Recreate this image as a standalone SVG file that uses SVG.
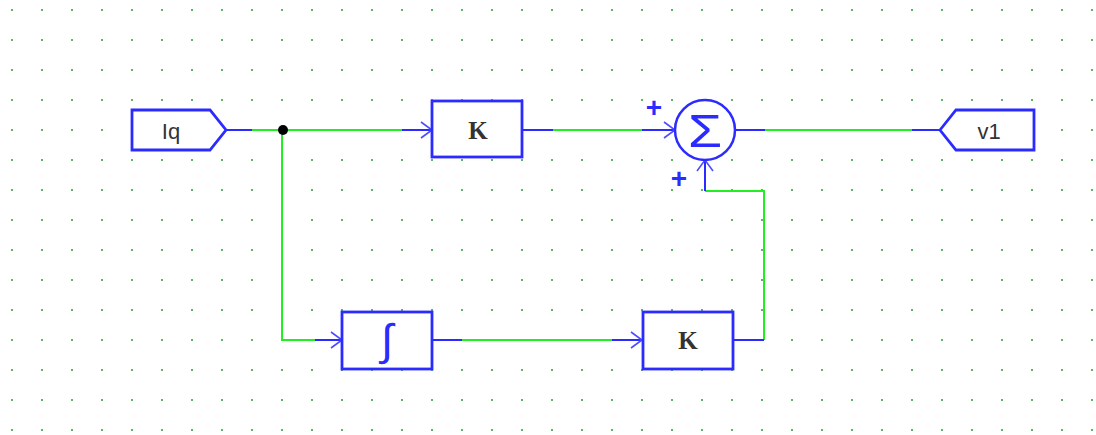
<svg xmlns="http://www.w3.org/2000/svg" width="1096" height="435" viewBox="0 0 1096 435">
<defs>
<pattern id="grid" x="0" y="0" width="30" height="30" patternUnits="userSpaceOnUse" patternTransform="translate(12 10)">
<rect x="-1" y="-1" width="2" height="2" fill="#5cb85c"/>
<rect x="29" y="-1" width="2" height="2" fill="#5cb85c"/>
<rect x="-1" y="29" width="2" height="2" fill="#5cb85c"/>
<rect x="29" y="29" width="2" height="2" fill="#5cb85c"/>
</pattern>
<marker id="arr" markerWidth="14" markerHeight="18" refX="12" refY="9" orient="auto" markerUnits="userSpaceOnUse">
<path d="M1,1 L12,9 L1,17" fill="none" stroke="#4d4dff" stroke-width="1.6"/>
</marker>
<style>
.blk{fill:#fff;stroke:#2b2bff;stroke-width:2.8}
.stub{fill:none;stroke:#2b2bff;stroke-width:2}
.wire{fill:none;stroke:#22ee22;stroke-width:2}
.lbl{font-family:"Liberation Sans",Arial,sans-serif;font-size:22px;fill:#333;text-anchor:middle;dominant-baseline:central}
.k{font-family:"Liberation Serif","Times New Roman",serif;font-size:25px;font-weight:bold;fill:#333;text-anchor:middle;dominant-baseline:central}
.sym{font-family:"Liberation Sans",sans-serif;fill:#2b2bff;text-anchor:middle;dominant-baseline:central}
.plus{font-family:"Liberation Sans",Arial,sans-serif;font-size:28px;font-weight:bold;fill:#2b2bff;text-anchor:middle;dominant-baseline:central}
</style>
</defs>
<rect width="1096" height="435" fill="#fff"/>
<rect width="1096" height="435" fill="url(#grid)"/>

<g id="connectors">
<path class="wire" d="M252,130 H402"/>
<path class="wire" d="M282,130 V340 H315"/>
<path class="wire" d="M553,130 H642"/>
<path class="wire" d="M462,340 H612"/>
<path class="wire" d="M705,191 H764 V340"/>
<path class="wire" d="M765,130 H912"/>
<path class="stub" d="M226,130 H252"/>
<path class="stub" d="M402,130 H432" marker-end="url(#arr)"/>
<path class="stub" d="M522,130 H553"/>
<path class="stub" d="M642,130 H675" marker-end="url(#arr)"/>
<path class="stub" d="M705,191 V160" marker-end="url(#arr)"/>
<path class="stub" d="M735,130 H765"/>
<path class="stub" d="M912,130 H940"/>
<path class="stub" d="M315,340 H342" marker-end="url(#arr)"/>
<path class="stub" d="M432,340 H462"/>
<path class="stub" d="M612,340 H642" marker-end="url(#arr)"/>
<path class="stub" d="M733,340 H764"/>
<circle cx="283" cy="130" r="5" fill="#000"/>
</g>

<g id="node-iq">
<polygon class="blk" points="132,110 210,110 226,130 210,150 132,150"/>
<text class="lbl" x="171" y="131">Iq</text>
</g>

<g id="node-k1">
<rect class="blk" x="432" y="101" width="90" height="56"/>
<text class="k" x="478" y="130">K</text>
</g>

<g id="node-sum">
<circle cx="705" cy="130" r="30" fill="#fff" stroke="#2b2bff" stroke-width="2.5"/>
<text class="sym" x="0" y="0" font-size="46" transform="translate(705 131) scale(1.2 1)">Σ</text>
<text class="plus" x="654" y="107">+</text>
<text class="plus" x="679" y="178">+</text>
</g>

<g id="node-v1">
<polygon class="blk" points="940,130 956,110 1034,110 1034,150 956,150"/>
<text class="lbl" x="989" y="131">v1</text>
</g>

<g id="node-int">
<rect class="blk" x="342" y="312" width="90" height="57"/>
<text class="sym" x="387" y="339" font-size="44">∫</text>
</g>

<g id="node-k2">
<rect class="blk" x="643" y="312" width="90" height="57"/>
<text class="k" x="688" y="340">K</text>
</g>
</svg>
